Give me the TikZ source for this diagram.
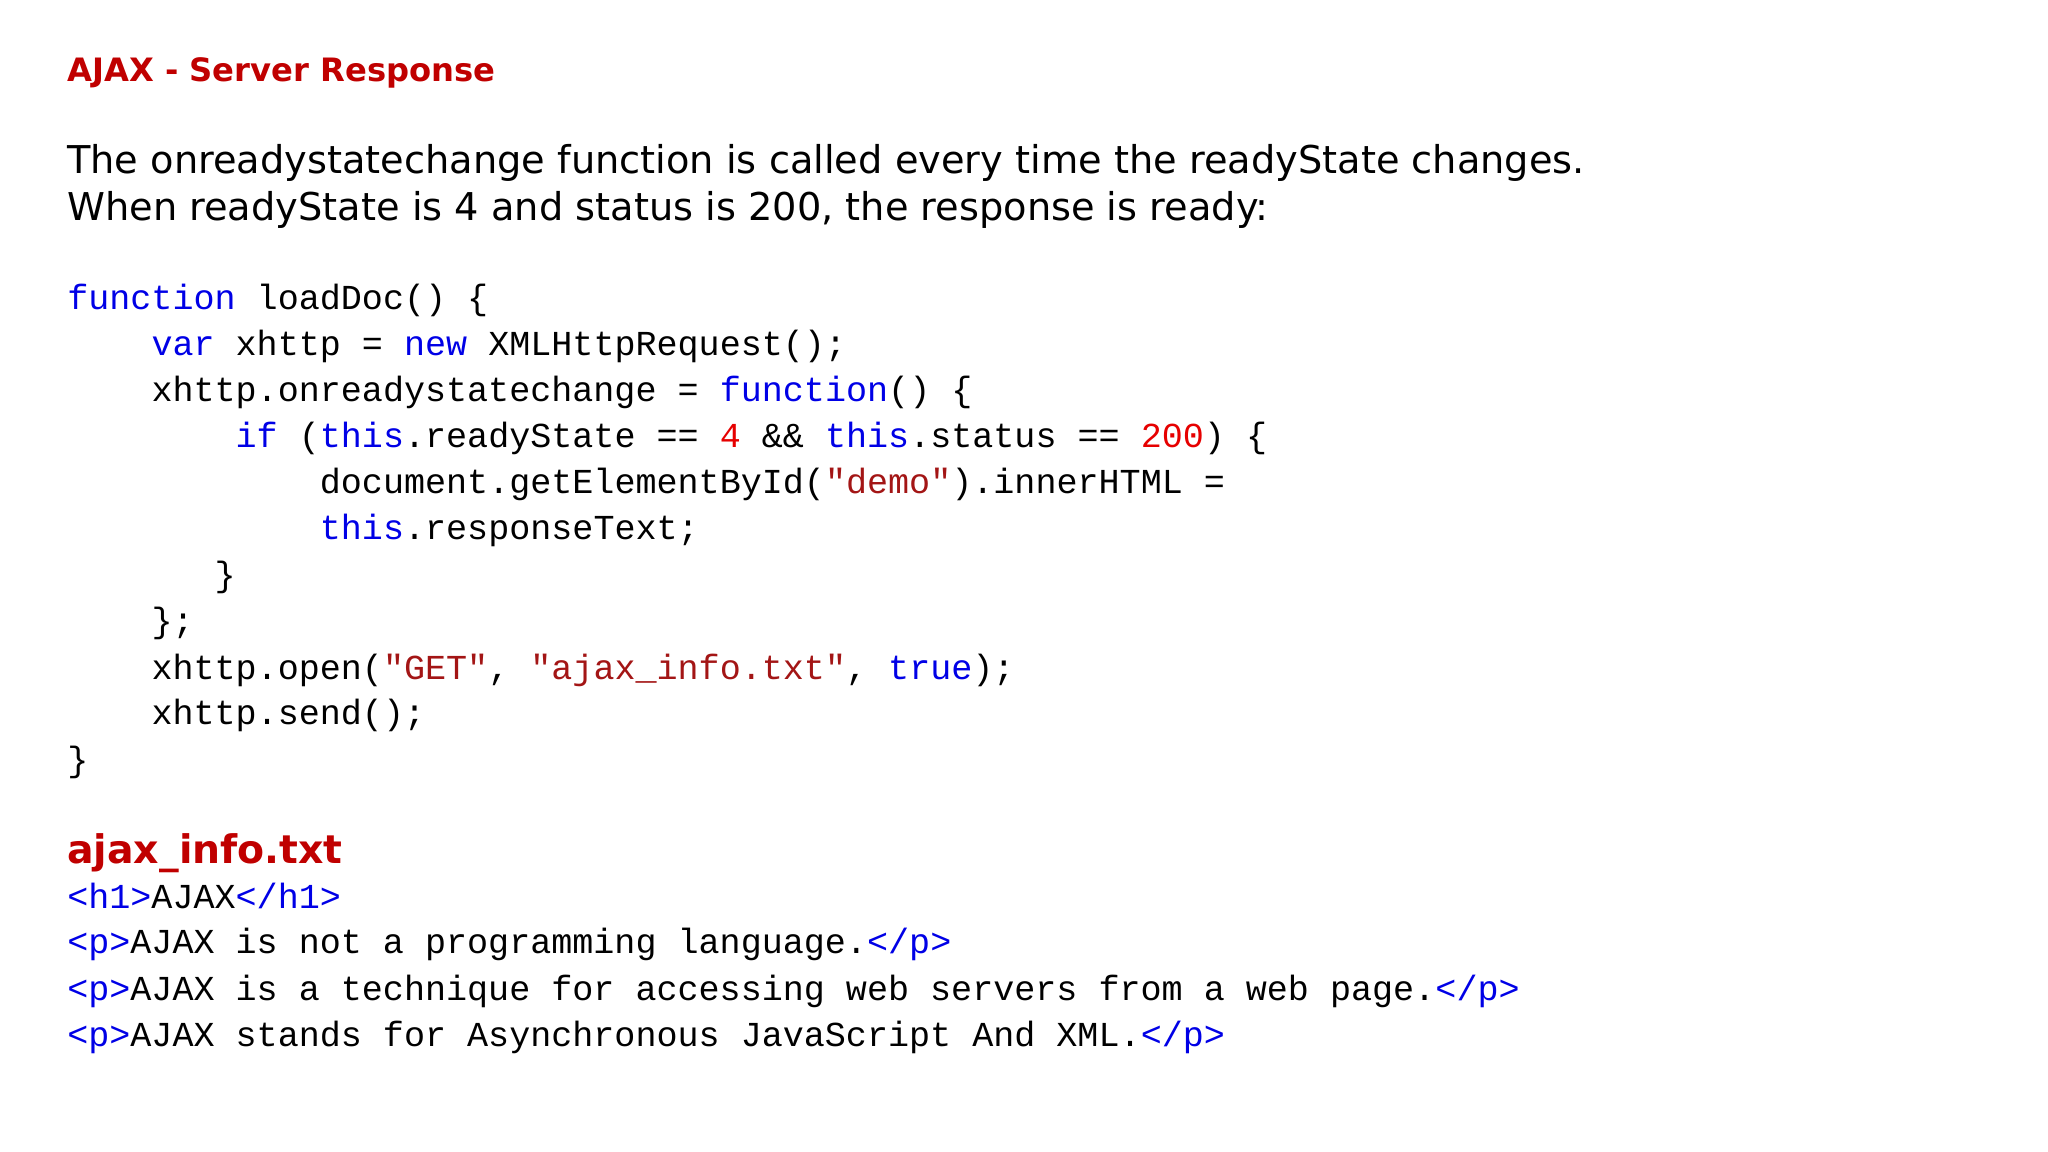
\documentclass[tikz,border=0pt]{standalone}
\usepackage{fontspec}
\setmainfont{DejaVu Sans}
\setmonofont{Liberation Mono}
\definecolor{ttl}{RGB}{192,0,0}
\definecolor{kwc}{RGB}{0,0,230}
\definecolor{stc}{RGB}{163,21,21}
\definecolor{nmc}{RGB}{230,0,0}
\newcommand{\kw}[1]{\textcolor{kwc}{#1}}
\newcommand{\sq}[1]{\textcolor{stc}{#1}}
\newcommand{\nm}[1]{\textcolor{nmc}{#1}}
\begin{document}
\begin{tikzpicture}[x=1cm,y=-1cm,
  txt/.style={anchor=base west,inner sep=0pt,font=\fontsize{10.9}{13}\selectfont},
  code/.style={anchor=base west,inner sep=0pt,font=\fontsize{9.98}{13}\selectfont\ttfamily},
  head/.style={anchor=base west,inner sep=0pt,text=ttl,font=\bfseries}]
\useasboundingbox (0,0) rectangle (20.48,11.52);
\def\cx{0.666}\def\cw{0.2105}
\node[head,font=\fontsize{9.16}{11}\selectfont\bfseries] (t) at (\cx,0.82) {AJAX - Server Response};
\node[txt] (b1) at (\cx,1.735) {The onreadystatechange function is called every time the readyState changes.};
\node[txt] (b2) at (\cx,2.205) {When readyState is 4 and status is 200, the response is ready:};
\node[code] (c1) at (\cx,3.10) {\kw{function} loadDoc() \{};
\node[code] (c2) at (\cx+4*\cw,3.56) {\kw{var} xhttp = \kw{new} XMLHttpRequest();};
\node[code] (c3) at (\cx+4*\cw,4.02) {xhttp.onreadystatechange = \kw{function}() \{};
\node[code] (c4) at (\cx+8*\cw,4.48) {\kw{if} (\kw{this}.readyState == \nm{4} \&\& \kw{this}.status == \nm{200}) \{};
\node[code] (c5) at (\cx+12*\cw,4.94) {document.getElementById(\sq{"demo"}).innerHTML =};
\node[code] (c6) at (\cx+12*\cw,5.40) {\kw{this}.responseText;};
\node[code] (c7) at (\cx+7*\cw,5.87) {\}};
\node[code] (c8) at (\cx+4*\cw,6.33) {\};};
\node[code] (c9) at (\cx+4*\cw,6.79) {xhttp.open(\sq{"GET"}, \sq{"ajax\_info.txt"}, \kw{true});};
\node[code] (c10) at (\cx+4*\cw,7.25) {xhttp.send();};
\node[code] (c11) at (\cx,7.71) {\}};
\node[head,font=\fontsize{11.2}{13}\selectfont\bfseries] (a) at (\cx,8.64) {ajax\_info.txt};
\node[code] (h1) at (\cx,9.08) {\kw{<h1>}AJAX\kw{</h1>}};
\node[code] (h2) at (\cx,9.54) {\kw{<p>}AJAX is not a programming language.\kw{</p>}};
\node[code] (h3) at (\cx,10.00) {\kw{<p>}AJAX is a technique for accessing web servers from a web page.\kw{</p>}};
\node[code] (h4) at (\cx,10.46) {\kw{<p>}AJAX stands for Asynchronous JavaScript And XML.\kw{</p>}};
\end{tikzpicture}
\end{document}
